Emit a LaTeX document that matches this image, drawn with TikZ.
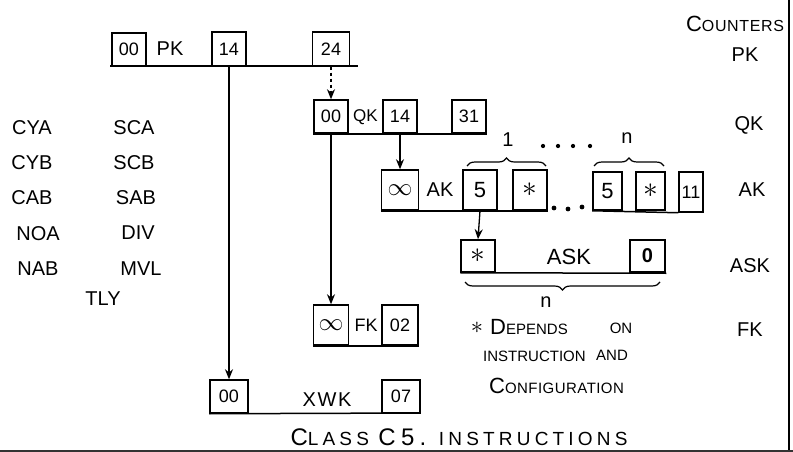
\documentclass[tikz,border=0pt]{standalone}
\usepackage{fontspec}
\setmainfont{Liberation Sans}
\usetikzlibrary{arrows.meta,decorations.pathreplacing}
\newcommand{\bgl}[1]{{\fontsize{22}{22}\selectfont #1}}
\newcommand{\astk}{\raisebox{0pt}{\scalebox{1.7}{$\ast$}}}
\newcommand{\infy}{{\fontsize{24}{24}\selectfont$\infty$}}
\begin{document}
\begin{tikzpicture}[x=1pt,y=-1pt,
  bx/.style={draw,line width=1.5pt,inner sep=0pt,font=\fontsize{18}{18}\selectfont},
  lbl/.style={inner sep=0pt,font=\fontsize{20}{20}\selectfont},
  note/.style={inner sep=0pt,font=\fontsize{15}{15}\selectfont},
  base/.style={line width=1.5pt},
  arr/.style={line width=1.3pt,-{Stealth[length=10pt,width=8pt]}},
  brc/.style={line width=1.2pt,decorate,decoration={brace,amplitude=8pt}},
  dotf/.style={fill,circle,inner sep=1.7pt}]
\useasboundingbox (0,0) rectangle (793,452);
% paper edges
\draw[line width=2pt] (789,0) -- (789,452);
\draw[line width=3pt,black!80] (0,451) -- (793,451);

% PK row
\node[bx,minimum width=34pt,minimum height=33pt] (pk00) at (129,49.5) {00};
\node[lbl] (pkt) at (170,49) {PK};
\node[bx,minimum width=34pt,minimum height=34pt] (pk14) at (229,49) {14};
\node[bx,minimum width=37pt,minimum height=34pt] (pk24) at (331,49) {24};
\coordinate (pkl) at (110,66);
\coordinate (pkr) at (358,66);
\draw[base] (pkl) -- (pkr);

% QK row
\node[bx,minimum width=34pt,minimum height=33pt] (qk00) at (331,116.5) {00};
\node[lbl,font=\fontsize{17}{17}\selectfont] (qkt) at (365.5,117) {QK};
\node[bx,minimum width=34pt,minimum height=33pt] (qk14) at (400,116.5) {14};
\node[bx,minimum width=34pt,minimum height=33pt] (qk31) at (469,116.5) {31};
\draw[base] (qk00.south west) -- (qk31.south east);

% AK row
\node[bx,minimum width=37pt,minimum height=40pt] (ak00) at (400,190) {\infy};
\node[lbl] (akt) at (440,190) {AK};
\node[bx,minimum width=34pt,minimum height=40pt,font=\fontsize{22}{22}\selectfont] (ak5a) at (480,190) {5};
\node[bx,minimum width=34pt,minimum height=40pt] (akSa) at (530,190) {\astk};
\node[bx,minimum width=29pt,minimum height=38pt,font=\fontsize{22}{22}\selectfont] (ak5b) at (607.5,191) {5};
\node[bx,minimum width=29pt,minimum height=38pt] (akSb) at (650.5,191) {\astk};
\node[bx,minimum width=24pt,minimum height=40pt] (ak11) at (691,192) {11};
\draw[base] (ak00.south west) -- (akSa.south east);
\draw[base] (ak5b.south west) -- (ak11.south west);
\node[dotf] (d1) at (554,208) {};
\node[dotf] (d2) at (568,209) {};
\node[dotf] (d3) at (582,207) {};
\draw[brc] (467,166) -- (546,166);
\draw[brc] (594,166) -- (664,166);
\node[lbl] (one) at (508,140) {1};
\node[dotf,inner sep=1.5pt] (e1) at (543,146) {};
\node[dotf,inner sep=1.5pt] (e2) at (558,146) {};
\node[dotf,inner sep=1.5pt] (e3) at (573,146) {};
\node[dotf,inner sep=1.5pt] (e4) at (590,146) {};
\node[lbl] (nn) at (627,138) {n};

% ASK row
\node[bx,minimum width=34pt,minimum height=32pt] (as1) at (478,256) {\astk};
\node[lbl,font=\fontsize{22}{22}\selectfont] (ast) at (569,257) {ASK};
\node[bx,line width=2.5pt,minimum width=35pt,minimum height=32pt,font=\bfseries\fontsize{20}{20}\selectfont] (as0) at (647.5,256) {0};
\draw[base] (as1.south west) -- (as0.south east);
\draw[brc] (660,282) -- (465,282);
\node[lbl] (asn) at (546,302) {n};

% FK row
\node[bx,minimum width=35pt,minimum height=40pt] (fk00) at (331,325) {\infy};
\node[lbl,font=\fontsize{18}{18}\selectfont] (fkt) at (366,325) {FK};
\node[bx,minimum width=36pt,minimum height=40pt] (fk02) at (400,325) {02};
\draw[base] (fk00.south west) -- (fk02.south east);

% XWK row
\node[bx,minimum width=38pt,minimum height=33pt] (xw00) at (229,396.5) {00};
\node[lbl,font=\addfontfeature{LetterSpace=8}\fontsize{20}{20}\selectfont] (xwt) at (327,400) {XWK};
\node[bx,minimum width=38pt,minimum height=33pt] (xw07) at (401,396.5) {07};
\coordinate (xwr) at (420,413);
\draw[base] (xw00.south west) -- (xwr);

% connectors
\draw[arr] (pk14.south) -- (xw00.north);
\draw[arr,dashed] (pk24.south) -- (qk00.north);
\draw[arr] (qk14.south) -- (ak00.north);
\draw[arr] (qk00.south) -- (fk00.north);
\draw[arr] (ak5a.south) -- (as1.north);

% left list
\node[lbl] (cya) at (32,128) {CYA};
\node[lbl] (sca) at (134,128) {SCA};
\node[lbl] (cyb) at (32,163) {CYB};
\node[lbl] (scb) at (134,163) {SCB};
\node[lbl] (cab) at (32,198) {CAB};
\node[lbl] (sab) at (136,198) {SAB};
\node[lbl] (noa) at (38,234) {NOA};
\node[lbl] (div) at (138,233) {DIV};
\node[lbl] (nab) at (38,269) {NAB};
\node[lbl] (mvl) at (141,269) {MVL};
\node[lbl] (tly) at (103,299) {TLY};

% counters column
\node[note,font=\addfontfeature{LetterSpace=4}\fontsize{16}{16}\selectfont] (cnt) at (735,24) {\bgl{C}OUNTERS};
\node[lbl] (cpk) at (745,55) {PK};
\node[lbl] (cqk) at (749,125) {QK};
\node[lbl] (cak) at (752,190) {AK};
\node[lbl] (cask) at (750,266) {ASK};
\node[lbl] (cfk) at (750,330) {FK};

% footnote
\node[note] (fn0) at (477,328) {\astk};
\node[note,anchor=west] (fn1) at (490,327) {\bgl{D}EPENDS};
\node[note] (fn1b) at (621,328) {ON};
\node[note,anchor=west] (fn2) at (483,356) {INSTRUCTION};
\node[note,anchor=west] (fn2b) at (596,355) {AND};
\node[note,anchor=west,font=\addfontfeature{LetterSpace=3}\fontsize{15}{15}\selectfont] (fn3) at (489,386) {\bgl{C}ONFIGURATION};

% title
\node[note,font=\addfontfeature{LetterSpace=22}\fontsize{19}{19}\selectfont] (title) at (459,437) {{\fontsize{24}{24}\selectfont C}LASS {\fontsize{24}{24}\selectfont C5.} INSTRUCTIONS};
\end{tikzpicture}
\end{document}
